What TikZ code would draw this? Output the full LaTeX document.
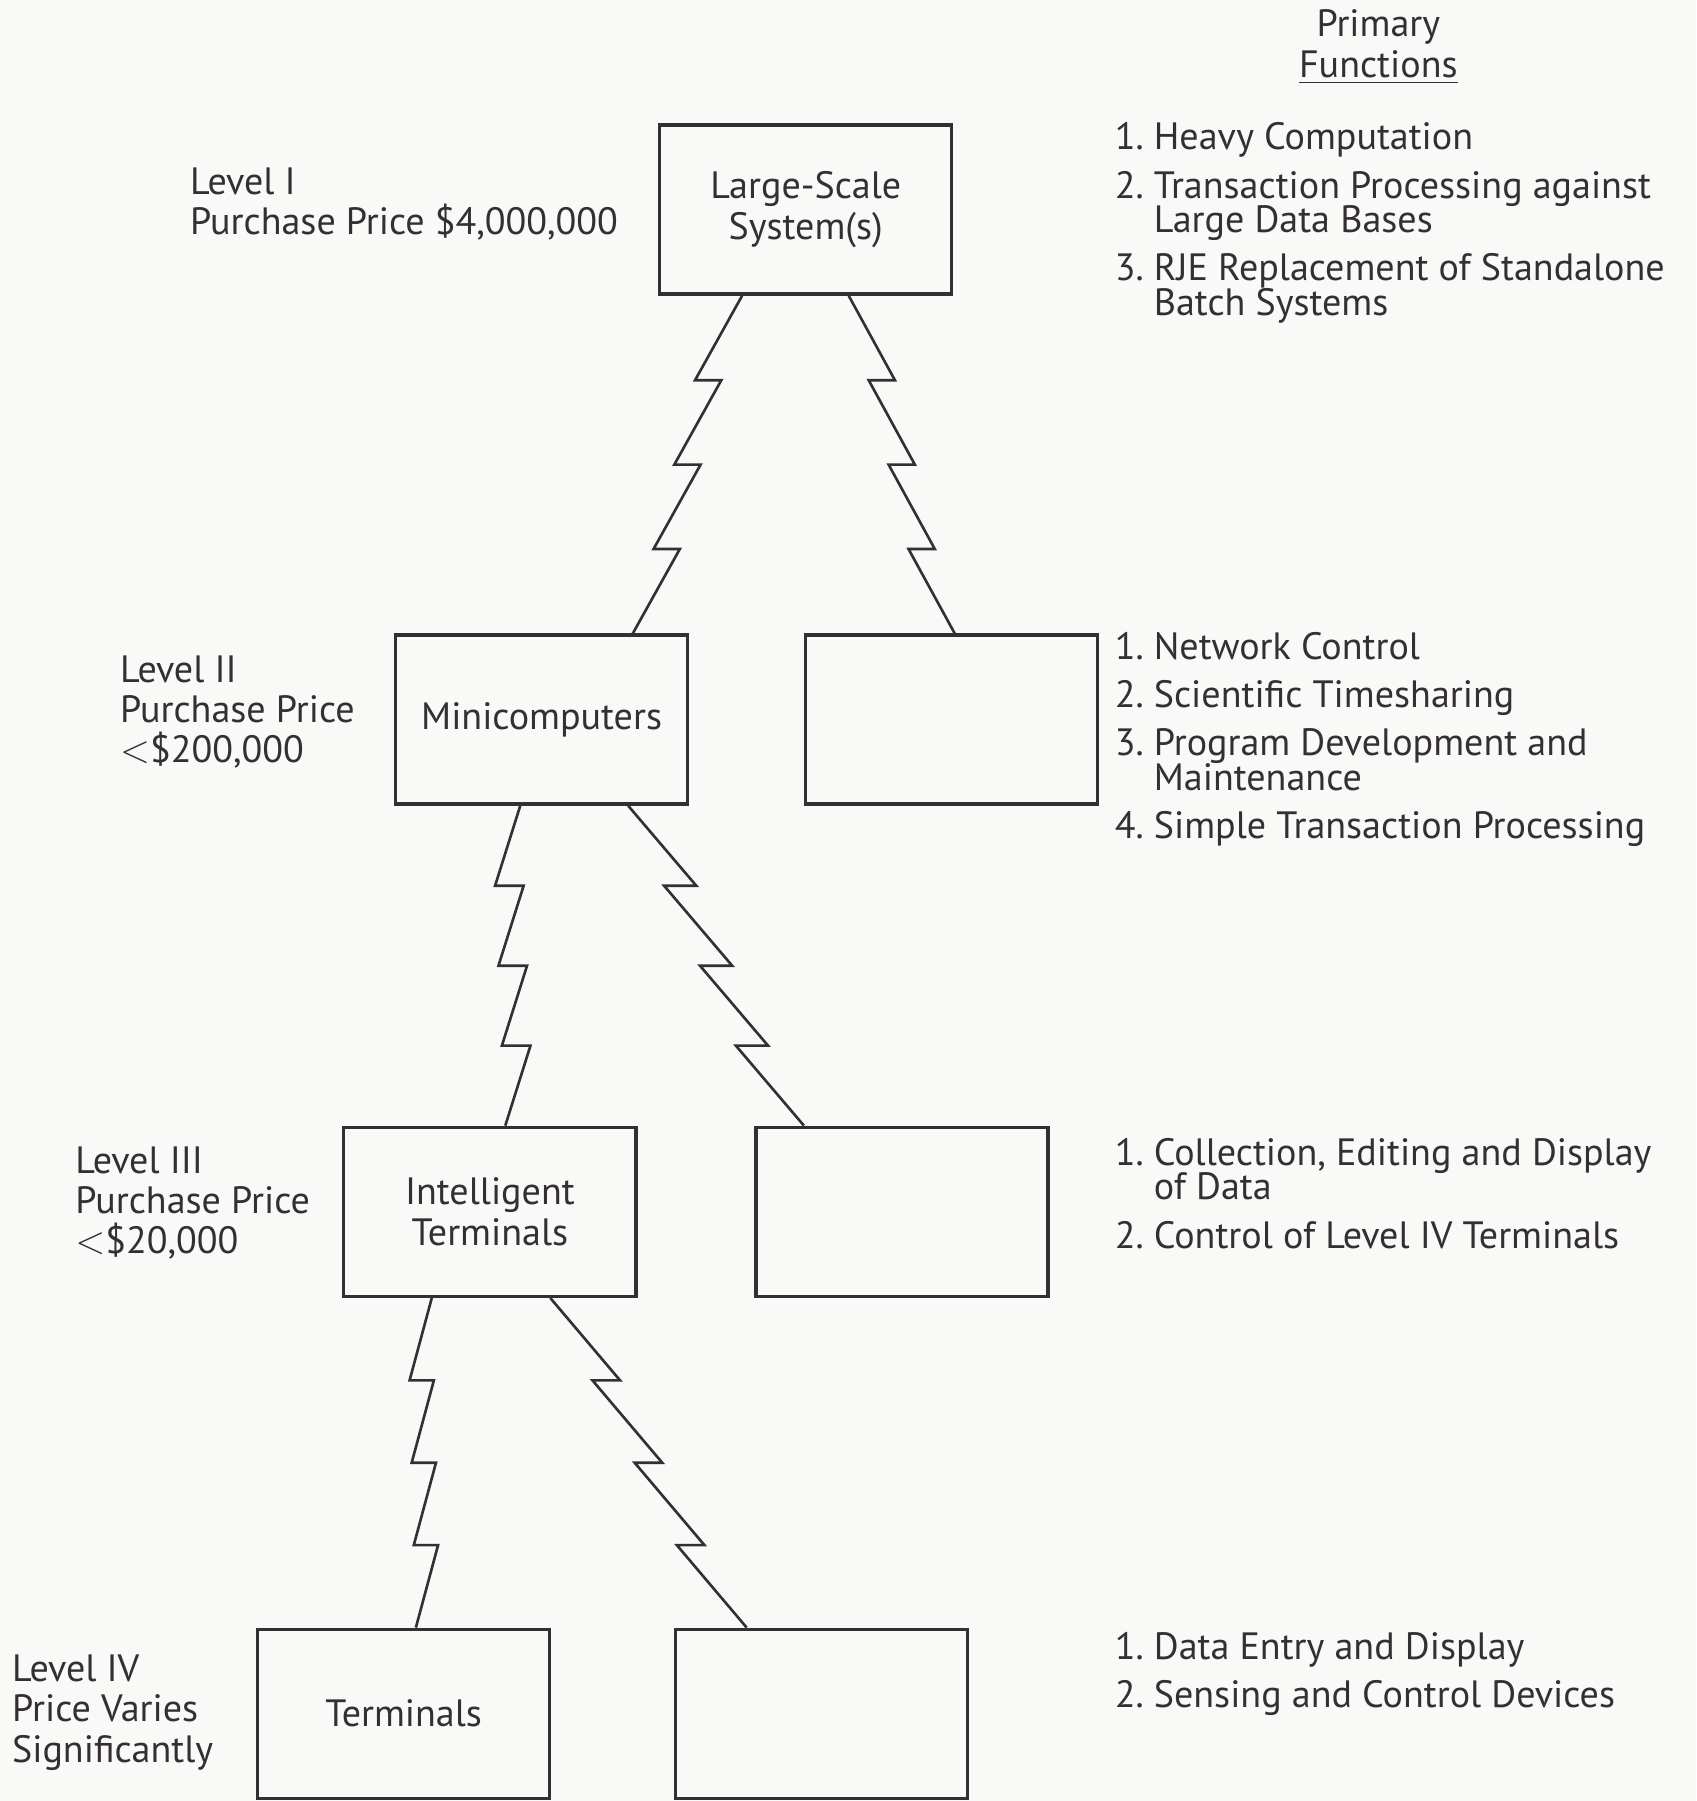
\documentclass[tikz,border=0pt]{standalone}
\usepackage{fontspec}
\setmainfont{PT Sans}
\usetikzlibrary{calc,positioning}
\definecolor{ink}{RGB}{52,47,50}
\definecolor{paper}{RGB}{249,249,248}
\tikzstyle{box}=[draw=ink, line width=1pt, minimum width=89pt, minimum height=51.5pt, align=center, inner sep=0pt, font=\fontsize{11.6}{12.25}\selectfont]
\tikzstyle{link}=[draw=ink, line width=0.8pt]
\tikzstyle{level}=[anchor=west, align=left, inner sep=0pt, text=ink, font={\fontsize{11.6}{12.25}\selectfont\lineskiplimit=-10pt}]
\tikzstyle{func}=[anchor=west, align=left, inner sep=0pt, text=ink, font={\fontsize{11.6}{10.5}\selectfont\lineskiplimit=-10pt}]
\newcommand{\zigline}[3]{\draw[link] let \p1=(#1), \p2=(#2),
  \n1={(\x2-\x1-3*(#3))/4}, \n2={(\y2-\y1)/4} in
  (\p1) -- ++(\n1,\n2) -- ++(#3,0pt) -- ++(\n1,\n2) -- ++(#3,0pt)
  -- ++(\n1,\n2) -- ++(#3,0pt) -- (\p2);}

\begin{document}
\begin{tikzpicture}[x=0.35pt, y=-0.35pt, node distance=125pt]
\fill[paper] (0,0) rectangle (1477,1568);
\useasboundingbox (0,0) rectangle (1477,1568);

\node [box, text=ink] (l1) at (701.5,182.5) {Large-Scale\\System(s)};
\node [box, text=ink] (l2) at (471.5,626.5) {Minicomputers};
\node [box, right of=l2] (l2r) {};
\node [box, text=ink] (l3) at (426.5,1055) {Intelligent\\Terminals};
\node [box, right of=l3, node distance=125.6pt] (l3r) {};
\node [box, text=ink] (l4) at (351.5,1492) {Terminals};
\node [box, right of=l4, node distance=127.4pt] (l4r) {};

\node [level] (p1) at (165,177.5) {Level I\\Purchase Price \$4,000,000};
\node [level] (p2) at (104,620) {Level II\\Purchase Price\\$<$\$200,000};
\node [level] (p3) at (65,1047.5) {Level III\\Purchase Price\\$<$\$20,000};
\node [level] (p4) at (10,1491) {Level IV\\Price Varies\\Significantly};

\node [level, anchor=center, align=center] (head) at (1200,41) {Primary\\\underline{Functions}};
\node [func] (f1) at (970,194) {1.\ Heavy Computation\\[4.2pt]
  2.\ Transaction Processing against\\\phantom{2.\ }Large Data Bases\\[4.2pt]
  3.\ RJE Replacement of Standalone\\\phantom{3.\ }Batch Systems};
\node [func] (f2) at (970,643.5) {1.\ Network Control\\[4.2pt]
  2.\ Scientific Timesharing\\[4.2pt]
  3.\ Program Development and\\\phantom{3.\ }Maintenance\\[4.2pt]
  4.\ Simple Transaction Processing};
\node [func] (f3) at (970,1039) {1.\ Collection, Editing and Display\\\phantom{1.\ }of Data\\[4.2pt]
  2.\ Control of Level IV Terminals};
\node [func] (f4) at (970,1457.5) {1.\ Data Entry and Display\\[4.2pt]
  2.\ Sensing and Control Devices};

\zigline{[xshift=-19.4pt]l1.south}{[xshift=27.8pt]l2.north}{8pt}
\zigline{[xshift=13.1pt]l1.south}{[xshift=0.9pt]l2r.north}{-8pt}
\zigline{[xshift=-6.5pt]l2.south}{[xshift=4.7pt]l3.north}{8.7pt}
\zigline{[xshift=26.4pt]l2.south}{[xshift=-29.9pt]l3r.north}{-9.8pt}
\zigline{[xshift=-17.7pt]l3.south}{[xshift=3.7pt]l4.north}{7.4pt}
\zigline{[xshift=18.4pt]l3.south}{[xshift=-22.9pt]l4r.north}{-8.4pt}
\end{tikzpicture}
\end{document}
